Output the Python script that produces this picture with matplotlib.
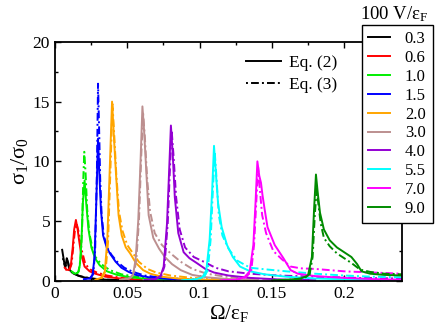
import matplotlib
matplotlib.use("Agg")
import matplotlib.pyplot as plt
from matplotlib.lines import Line2D
from matplotlib.ticker import MultipleLocator, FormatStrFormatter

plt.rcParams['font.family'] = ['Liberation Serif', 'DejaVu Serif']
plt.rcParams['mathtext.fontset'] = 'custom'
plt.rcParams['mathtext.rm'] = 'Liberation Serif'
plt.rcParams['mathtext.it'] = 'Liberation Serif:italic'

# Valores de 100 V/eps_F y colores de cada curva
v_labels = ['0.3', '0.6', '1.0', '1.5', '2.0', '3.0', '4.0', '5.5', '7.0', '9.0']
colores = ['black', 'red', '#00ee00', 'blue', 'orange', '#bc8f8f',
           '#9400d3', 'cyan', 'magenta', '#008b00']

# V = 0.3
w03_eq2 = [0.005, 0.0058, 0.0066, 0.0074, 0.0082, 0.009, 0.0098, 0.011, 0.013, 0.016, 0.020, 0.026, 0.035, 0.05]
s03_eq2 = [2.6, 2.0, 1.4, 1.3, 1.9, 1.6, 1.0, 0.8, 0.6, 0.45, 0.3, 0.18, 0.1, 0.05]
w03_eq3 = [0.0055, 0.0063, 0.0071, 0.0079, 0.0087, 0.0095, 0.0105, 0.012, 0.014, 0.017, 0.021, 0.027, 0.036, 0.05]
s03_eq3 = [1.9, 1.5, 1.1, 1.4, 1.8, 1.3, 0.9, 0.7, 0.55, 0.4, 0.3, 0.18, 0.1, 0.05]

# V = 0.6
w06_eq2 = [0.0068, 0.008, 0.0095, 0.011, 0.0123, 0.0133, 0.0145, 0.0157, 0.0167, 0.0182, 0.0205, 0.024, 0.028, 0.035, 0.045, 0.06]
s06_eq2 = [1.1, 0.95, 0.9, 1.3, 2.8, 4.3, 5.1, 4.3, 3.4, 2.2, 1.2, 0.8, 0.6, 0.35, 0.2, 0.08]
w06_eq3 = [0.0072, 0.0085, 0.01, 0.0115, 0.0128, 0.0138, 0.015, 0.0162, 0.0172, 0.0187, 0.021, 0.0245, 0.029, 0.036, 0.046, 0.06]
s06_eq3 = [1.0, 0.85, 0.9, 1.4, 3.0, 4.2, 4.8, 4.2, 3.5, 2.5, 1.4, 0.95, 0.7, 0.45, 0.25, 0.1]

# V = 1.0
w10_eq2 = [0.0115, 0.014, 0.016, 0.0172, 0.0183, 0.0193, 0.0205, 0.0217, 0.0232, 0.0252, 0.0277, 0.031, 0.036, 0.043, 0.052, 0.065, 0.08]
s10_eq2 = [0.8, 0.6, 0.7, 1.3, 3.2, 6.5, 8.4, 6.4, 4.3, 2.8, 1.9, 1.3, 0.8, 0.5, 0.3, 0.15, 0.07]
w10_eq3 = [0.012, 0.0145, 0.0165, 0.0178, 0.0188, 0.0196, 0.0203, 0.0212, 0.0223, 0.0238, 0.0258, 0.028, 0.032, 0.038, 0.046, 0.056, 0.07, 0.085]
s10_eq3 = [0.7, 0.55, 0.8, 2.0, 4.5, 8.5, 10.8, 9.0, 6.0, 4.0, 2.8, 2.0, 1.4, 0.9, 0.55, 0.35, 0.18, 0.08]

# V = 1.5
w15_eq2 = [0.02, 0.024, 0.026, 0.0274, 0.0287, 0.0298, 0.0307, 0.0318, 0.0333, 0.0358, 0.038, 0.042, 0.046, 0.051, 0.056, 0.065, 0.08, 0.1]
s15_eq2 = [0.15, 0.2, 0.5, 2.0, 7.0, 11.9, 9.0, 6.0, 3.8, 2.8, 2.3, 1.6, 1.1, 0.75, 0.5, 0.3, 0.15, 0.06]
w15_eq3 = [0.0205, 0.0245, 0.0265, 0.0278, 0.029, 0.0298, 0.0305, 0.0313, 0.0323, 0.0338, 0.036, 0.039, 0.043, 0.048, 0.054, 0.062, 0.075, 0.095, 0.12]
s15_eq3 = [0.15, 0.2, 0.6, 2.5, 9.0, 16.5, 13.0, 8.5, 5.5, 3.8, 2.8, 2.2, 1.6, 1.1, 0.75, 0.45, 0.25, 0.12, 0.05]

# V = 2.0
w20_eq2 = [0.028, 0.032, 0.0345, 0.0362, 0.0378, 0.0395, 0.0408, 0.0422, 0.044, 0.0462, 0.049, 0.052, 0.056, 0.061, 0.066, 0.074, 0.085, 0.1, 0.12]
s20_eq2 = [0.1, 0.25, 0.8, 3.4, 9.0, 15.0, 12.0, 9.0, 5.5, 3.8, 2.8, 2.3, 1.5, 0.9, 0.6, 0.35, 0.2, 0.1, 0.05]
w20_eq3 = [0.0285, 0.0325, 0.035, 0.0367, 0.0383, 0.0398, 0.0411, 0.0424, 0.0443, 0.0467, 0.05, 0.054, 0.058, 0.064, 0.07, 0.08, 0.095, 0.115, 0.14]
s20_eq3 = [0.1, 0.25, 0.8, 3.2, 9.0, 14.8, 12.0, 9.0, 5.8, 4.2, 3.0, 2.3, 1.6, 1.0, 0.7, 0.45, 0.25, 0.12, 0.05]

# V = 3.0
w30_eq2 = [0.045, 0.051, 0.054, 0.0558, 0.0576, 0.0592, 0.0605, 0.0617, 0.0628, 0.0648, 0.068, 0.072, 0.076, 0.081, 0.087, 0.095, 0.105, 0.12, 0.14]
s30_eq2 = [0.1, 0.2, 0.5, 1.8, 5.0, 10.0, 14.6, 12.5, 10.0, 5.5, 3.6, 2.7, 2.0, 1.4, 0.9, 0.5, 0.3, 0.15, 0.07]
w30_eq3 = [0.046, 0.0515, 0.0545, 0.0563, 0.0581, 0.0597, 0.061, 0.0622, 0.0638, 0.0658, 0.069, 0.074, 0.08, 0.087, 0.095, 0.105, 0.118, 0.135, 0.16]
s30_eq3 = [0.1, 0.2, 0.5, 1.8, 5.0, 10.5, 14.0, 12.0, 8.5, 5.8, 4.0, 3.0, 2.3, 1.6, 1.0, 0.6, 0.35, 0.2, 0.08]

# V = 4.0
w40_eq2 = [0.062, 0.069, 0.073, 0.0752, 0.0775, 0.0789, 0.0802, 0.0815, 0.0829, 0.0853, 0.089, 0.093, 0.098, 0.104, 0.11, 0.12, 0.135, 0.155, 0.18]
s40_eq2 = [0.08, 0.15, 0.4, 1.2, 4.8, 9.0, 13.0, 10.5, 7.0, 4.0, 2.4, 1.9, 1.5, 1.0, 0.7, 0.45, 0.25, 0.12, 0.06]
w40_eq3 = [0.063, 0.07, 0.0735, 0.0757, 0.078, 0.0794, 0.0807, 0.082, 0.0838, 0.0863, 0.09, 0.096, 0.103, 0.111, 0.12, 0.135, 0.155, 0.18, 0.21, 0.24]
s40_eq3 = [0.08, 0.15, 0.4, 1.2, 4.8, 9.0, 12.6, 10.5, 7.0, 4.3, 2.8, 2.0, 1.6, 1.1, 0.8, 0.6, 0.45, 0.35, 0.25, 0.2]

# V = 5.5
w55_eq2 = [0.088, 0.097, 0.102, 0.1047, 0.107, 0.1087, 0.110, 0.1113, 0.1128, 0.1153, 0.119, 0.123, 0.128, 0.135, 0.145, 0.16, 0.18, 0.21, 0.24]
s55_eq2 = [0.05, 0.12, 0.3, 0.9, 3.5, 7.5, 11.3, 9.0, 6.5, 4.5, 3.0, 2.0, 1.2, 0.8, 0.55, 0.35, 0.2, 0.1, 0.06]
w55_eq3 = [0.089, 0.098, 0.103, 0.1057, 0.1077, 0.1092, 0.1105, 0.1118, 0.1133, 0.1158, 0.12, 0.126, 0.135, 0.147, 0.16, 0.18, 0.2, 0.22, 0.24]
s55_eq3 = [0.05, 0.12, 0.3, 0.9, 3.5, 7.5, 10.8, 8.5, 5.5, 3.8, 2.7, 1.7, 1.1, 0.95, 0.8, 0.6, 0.45, 0.35, 0.3]

# V = 7.0
w70_eq2 = [0.115, 0.125, 0.131, 0.1347, 0.1372, 0.1387, 0.140, 0.1413, 0.1425, 0.1435, 0.145, 0.147, 0.152, 0.158, 0.1605, 0.163, 0.168, 0.18, 0.2, 0.22, 0.24]
s70_eq2 = [0.05, 0.1, 0.3, 0.8, 3.0, 6.5, 10.0, 8.8, 8.2, 7.2, 6.0, 4.5, 3.0, 1.9, 1.4, 0.9, 0.6, 0.4, 0.25, 0.15, 0.1]
w70_eq3 = [0.116, 0.126, 0.132, 0.1357, 0.1377, 0.1392, 0.1405, 0.1418, 0.1433, 0.146, 0.151, 0.157, 0.163, 0.17, 0.18, 0.2, 0.22, 0.24]
s70_eq3 = [0.05, 0.1, 0.3, 0.8, 3.0, 6.5, 9.5, 7.5, 5.5, 4.0, 2.5, 1.8, 1.2, 1.05, 1.0, 0.8, 0.7, 0.6]

# V = 9.0
w90_eq2 = [0.15, 0.162, 0.17, 0.175, 0.1777, 0.1792, 0.1805, 0.1818, 0.1833, 0.186, 0.19, 0.195, 0.2, 0.205, 0.209, 0.212, 0.218, 0.228, 0.24]
s90_eq2 = [0.04, 0.1, 0.2, 0.45, 2.0, 6.0, 8.9, 7.3, 5.7, 4.3, 3.4, 2.8, 2.4, 2.0, 1.4, 0.8, 0.6, 0.5, 0.45]
w90_eq3 = [0.151, 0.163, 0.171, 0.176, 0.1782, 0.1797, 0.181, 0.1823, 0.1838, 0.186, 0.19, 0.195, 0.2, 0.205, 0.211, 0.218, 0.228, 0.24]
s90_eq3 = [0.04, 0.1, 0.2, 0.45, 2.0, 5.5, 7.7, 6.3, 4.8, 3.6, 2.9, 2.3, 1.9, 1.5, 0.95, 0.75, 0.6, 0.55]

curvas_eq2 = [(w03_eq2, s03_eq2), (w06_eq2, s06_eq2), (w10_eq2, s10_eq2), (w15_eq2, s15_eq2),
              (w20_eq2, s20_eq2), (w30_eq2, s30_eq2), (w40_eq2, s40_eq2), (w55_eq2, s55_eq2),
              (w70_eq2, s70_eq2), (w90_eq2, s90_eq2)]
curvas_eq3 = [(w03_eq3, s03_eq3), (w06_eq3, s06_eq3), (w10_eq3, s10_eq3), (w15_eq3, s15_eq3),
              (w20_eq3, s20_eq3), (w30_eq3, s30_eq3), (w40_eq3, s40_eq3), (w55_eq3, s55_eq3),
              (w70_eq3, s70_eq3), (w90_eq3, s90_eq3)]

estilo_punto_raya = (0, (1.0, 1.6, 4.0, 1.6))

fig = plt.figure(figsize=(4.36, 3.27), dpi=100)
ax = fig.add_axes([0.126, 0.141, 0.796, 0.731])

for (w2, s2), (w3, s3), c in zip(curvas_eq2, curvas_eq3, colores):
    ax.plot(w2, s2, color=c, lw=1.4)
    ax.plot(w3, s3, color=c, lw=1.4, linestyle=estilo_punto_raya)

ax.set_xlim(0, 0.24)
ax.set_ylim(0, 20)
ax.xaxis.set_major_locator(MultipleLocator(0.05))
ax.xaxis.set_minor_locator(MultipleLocator(0.025))
ax.yaxis.set_major_locator(MultipleLocator(5))
ax.yaxis.set_minor_locator(MultipleLocator(2.5))
ax.xaxis.set_major_formatter(FormatStrFormatter('%g'))
ax.tick_params(which='both', direction='in', top=True, right=True, labelsize=12.5, width=1.0)
ax.tick_params(which='major', length=4.5)
ax.tick_params(which='minor', length=2.5)
for sp in ax.spines.values():
    sp.set_linewidth(1.3)

ax.set_xlabel('Ω/ε$_\\mathrm{F}$', fontsize=15, labelpad=1)
ax.set_ylabel('σ$_1$/σ$_0$', fontsize=16, labelpad=2)

# Leyenda de estilos de linea
h_eq = [Line2D([], [], color='black', lw=1.4),
        Line2D([], [], color='black', lw=1.4, linestyle=estilo_punto_raya)]
ax.legend(h_eq, ['Eq. (2)', 'Eq. (3)'], loc='upper left', bbox_to_anchor=(0.55, 0.945),
          frameon=False, fontsize=12.5, handlelength=2.0, handletextpad=0.5,
          labelspacing=0.35, borderpad=0, borderaxespad=0)

# Leyenda de V, fuera de los ejes
h_v = [Line2D([], [], color=c, lw=1.4) for c in colores]
leg = fig.legend(h_v, v_labels, loc='upper right', bbox_to_anchor=(0.992, 0.925),
                 fontsize=12, frameon=True, fancybox=False, framealpha=1,
                 edgecolor='black', handlelength=1.3, handletextpad=0.9,
                 labelspacing=0.17, borderpad=0.4, borderaxespad=0)
leg.get_frame().set_linewidth(1.0)
fig.text(0.905, 0.958, '100 V/ε$_\\mathrm{F}$', ha='center', va='center', fontsize=13.5)

fig.savefig('out.png', dpi=100)
